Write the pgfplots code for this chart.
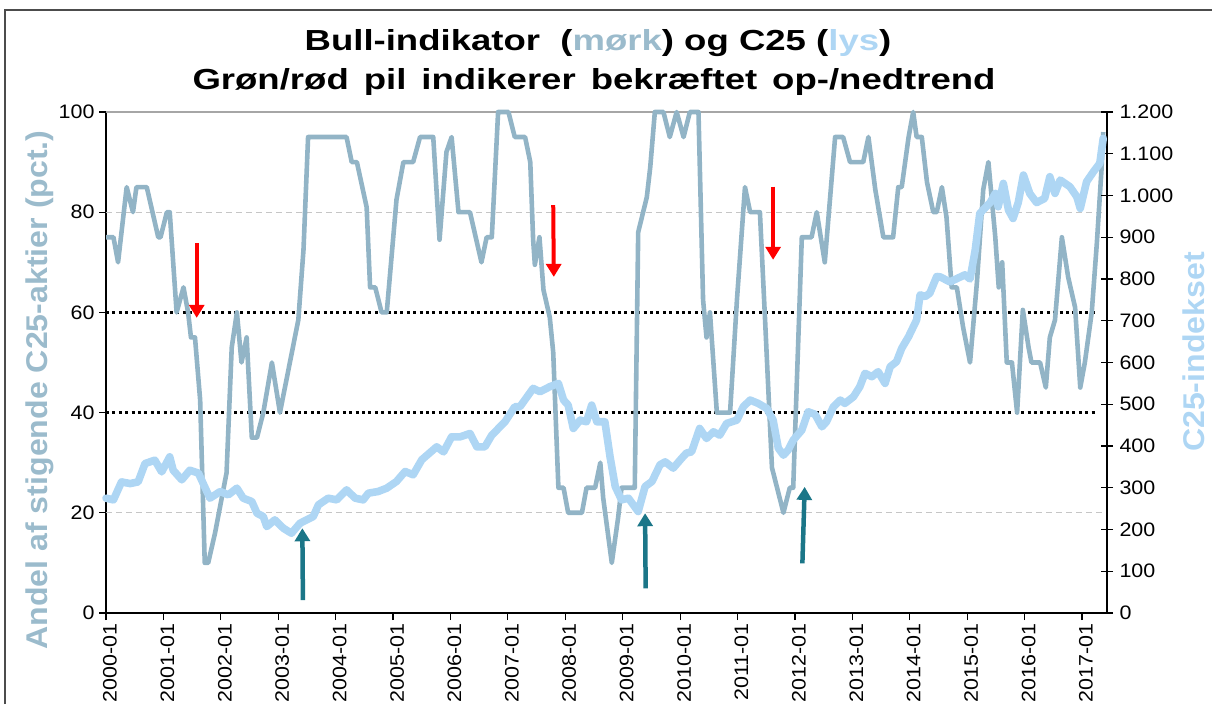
\documentclass[border=0pt]{standalone}
\usepackage{fontspec}
\setmainfont{Liberation Sans}
\newfontfamily\titlefont[FakeStretch=1.26]{Liberation Sans}
\newfontfamily\labelfont[FakeStretch=1.07]{Liberation Sans}
\newfontfamily\tickfamily[FakeStretch=1.1]{Liberation Sans}
\usepackage{pgfplots}
\pgfplotsset{compat=1.18}
\usetikzlibrary{arrows.meta}
\definecolor{darkline}{RGB}{146,180,198}
\definecolor{darklabel}{RGB}{155,187,204}
\definecolor{lightline}{RGB}{174,214,244}
\definecolor{arrteal}{RGB}{27,118,136}
\newcommand{\tickfont}{\tickfamily\fontsize{19.5}{21}\selectfont}
\begin{document}
\begin{tikzpicture}[x=1pt,y=1pt]
\useasboundingbox (0,0) rectangle (1212,704);
\draw[line width=1.6pt, black!70] (5,0) -- (5,694) -- (1212,694);
\node[anchor=base] at (598,653) {\titlefont\fontsize{29}{32}\selectfont\bfseries Bull-indikator\ \ ({\color{darklabel}mørk}) og C25 ({\color{lightline}lys})};
\node[anchor=base] at (594,614) {\titlefont\fontsize{29}{32}\selectfont\bfseries Grøn/rød\ \,pil\ \,indikerer\ \,bekræftet\ \,op-/nedtrend};
\node[anchor=base, rotate=90, text=darklabel] at (47,314) {\labelfont\fontsize{30}{33}\selectfont\bfseries Andel af stigende C25-aktier (pct.)};
\node[anchor=base, rotate=90, text=lightline] at (1204,352) {\labelfont\fontsize{30}{33}\selectfont\bfseries C25-indekset};

\begin{axis}[
  at={(106pt,91pt)}, anchor=south west,
  width=1001pt, height=501pt, scale only axis,
  xmin=2000, xmax=2017.436, ymin=0, ymax=100,
  xtick={2000,2001,2002,2003,2004,2005,2006,2007,2008,2009,2010,2011,2012,2013,2014,2015,2016,2017},
  xticklabels={2000-01,2001-01,2002-01,2003-01,2004-01,2005-01,2006-01,2007-01,2008-01,2009-01,2010-01,2011-01,2012-01,2013-01,2014-01,2015-01,2016-01,2017-01},
  xtick pos=bottom, ytick pos=left,
  ytick={0,20,40,60,80,100},
  tick align=outside, major tick length=7pt,
  tick style={black, line width=1.2pt},
  axis line style={black, line width=1.4pt},
  x tick label style={rotate=90, anchor=east, font=\tickfont, yshift=-4pt},
  y tick label style={font=\tickfont, xshift=-1pt},
  /pgf/number format/assume math mode=true,
  clip=false,
]
\draw[gray!45, line width=0.9pt, dash pattern=on 6pt off 4pt] (axis cs:2000,20) -- (axis cs:2017.436,20);
\draw[gray!45, line width=0.9pt, dash pattern=on 6pt off 4pt] (axis cs:2000,80) -- (axis cs:2017.436,80);
\draw[black, line width=3pt, dash pattern=on 3pt off 3.4pt] (axis cs:2000,40) -- (axis cs:2017.25,40);
\draw[black, line width=3pt, dash pattern=on 3pt off 3.4pt] (axis cs:2000,60) -- (axis cs:2017.25,60);
\draw[gray!70, line width=1.4pt] (rel axis cs:0,1) -- (rel axis cs:1,1);
\addplot[darkline, line width=4.6pt, line join=round, no marks] coordinates {
(2000.00,75) (2000.13,75) (2000.21,70) (2000.36,85) (2000.47,80) (2000.53,85) (2000.71,85)
(2000.91,75) (2000.95,75) (2001.06,80) (2001.11,80) (2001.23,60) (2001.35,65) (2001.43,60)
(2001.48,55) (2001.55,55) (2001.64,42.5) (2001.72,10) (2001.78,10) (2001.90,16) (2002.10,28)
(2002.19,53) (2002.28,60) (2002.36,50) (2002.45,55) (2002.54,35) (2002.63,35) (2002.74,40)
(2002.89,50) (2003.03,40) (2003.35,58.5) (2003.44,72.5) (2003.52,95) (2004.19,95) (2004.28,90)
(2004.37,90) (2004.54,81) (2004.60,65) (2004.69,65) (2004.80,60) (2004.89,60) (2005.06,82.5)
(2005.18,90) (2005.35,90) (2005.47,95) (2005.70,95) (2005.81,74.5) (2005.93,92) (2006.02,95)
(2006.14,80) (2006.34,80) (2006.54,70) (2006.63,75) (2006.72,75) (2006.83,100) (2007.01,100)
(2007.12,95) (2007.30,95) (2007.39,90) (2007.44,74.5) (2007.47,69.5) (2007.55,75) (2007.62,64.5)
(2007.73,59) (2007.79,52) (2007.88,25) (2007.97,25) (2008.05,20) (2008.29,20) (2008.37,25)
(2008.52,25) (2008.61,30) (2008.66,23) (2008.81,10) (2008.92,19) (2008.98,25) (2009.21,25)
(2009.27,76) (2009.42,83) (2009.48,89) (2009.56,100) (2009.71,100) (2009.82,95) (2009.94,100)
(2010.06,95) (2010.17,100) (2010.32,100) (2010.40,62.5) (2010.46,55) (2010.52,60) (2010.64,40)
(2010.87,40) (2010.99,62.5) (2011.13,85) (2011.22,80) (2011.39,80) (2011.48,58.5) (2011.60,29)
(2011.80,20) (2011.91,25) (2011.97,25) (2012.12,75) (2012.29,75) (2012.38,80) (2012.52,70)
(2012.70,95) (2012.84,95) (2012.96,90) (2013.19,90) (2013.28,95) (2013.40,84.5) (2013.54,75)
(2013.71,75) (2013.80,85) (2013.86,85) (2013.98,95) (2014.06,100) (2014.12,95) (2014.21,95)
(2014.30,86) (2014.41,80) (2014.47,80) (2014.56,85) (2014.64,79) (2014.73,65) (2014.82,65)
(2014.93,57) (2015.05,50) (2015.17,66) (2015.28,84.5) (2015.37,90) (2015.49,75) (2015.55,65)
(2015.61,70) (2015.69,50) (2015.78,50) (2015.87,40) (2015.97,60.5) (2016.07,53) (2016.12,50)
(2016.27,50) (2016.37,45) (2016.44,55) (2016.53,58.5) (2016.65,75) (2016.76,67) (2016.88,61)
(2016.97,45) (2017.05,50) (2017.17,60) (2017.26,74) (2017.34,88.5) (2017.37,96)
};
\end{axis}

\begin{axis}[
  at={(106pt,91pt)}, anchor=south west,
  width=1001pt, height=501pt, scale only axis,
  xmin=2000, xmax=2017.436, ymin=0, ymax=1200,
  hide x axis,
  axis y line*=right,
  axis line style={black, line width=1.4pt, -},
  every outer y axis line/.append style={-},
  ytick={0,100,200,300,400,500,600,700,800,900,1000,1100,1200},
  tick align=center, major tick length=12pt,
  tick style={black, line width=1.2pt},
  y tick label style={font=\tickfont, xshift=3pt},
  /pgf/number format/.cd, 1000 sep={.}, assume math mode=true,
  /pgfplots/.cd,
  clip=false,
]
\addplot[lightline, line width=7.6pt, line join=round, line cap=round, no marks] coordinates {
(2000.00,275) (2000.13,271) (2000.27,314) (2000.42,310) (2000.56,314) (2000.68,358) (2000.85,366)
(2000.97,338) (2001.11,374) (2001.17,342) (2001.32,319) (2001.46,342) (2001.61,335) (2001.81,275)
(2001.99,291) (2002.13,283) (2002.28,299) (2002.39,275) (2002.54,267) (2002.63,239) (2002.74,231)
(2002.80,207) (2002.94,223) (2003.09,203) (2003.23,191) (2003.38,215) (2003.61,231) (2003.70,259)
(2003.87,275) (2004.02,271) (2004.19,295) (2004.34,275) (2004.48,271) (2004.57,287) (2004.74,291)
(2004.89,299) (2005.06,315) (2005.21,339) (2005.35,331) (2005.50,367) (2005.76,398) (2005.88,386)
(2006.02,422) (2006.17,422) (2006.34,430) (2006.46,398) (2006.60,398) (2006.72,426) (2006.95,458)
(2007.12,494) (2007.21,494) (2007.44,538) (2007.56,530) (2007.73,542) (2007.88,550) (2007.97,510)
(2008.05,498) (2008.14,442) (2008.26,462) (2008.37,458) (2008.46,498) (2008.55,458) (2008.69,458)
(2008.78,374) (2008.87,303) (2008.98,271) (2009.10,275) (2009.27,243) (2009.39,303) (2009.51,315)
(2009.65,355) (2009.74,362) (2009.88,347) (2010.03,371) (2010.11,383) (2010.20,386) (2010.34,442)
(2010.46,418) (2010.58,434) (2010.69,426) (2010.81,454) (2010.99,462) (2011.10,494) (2011.22,510)
(2011.36,502) (2011.51,490) (2011.62,462) (2011.71,395) (2011.80,378) (2011.88,390) (2011.97,414)
(2012.12,438) (2012.23,482) (2012.35,476) (2012.47,446) (2012.55,458) (2012.67,494) (2012.79,510)
(2012.87,502) (2013.02,518) (2013.13,542) (2013.22,574) (2013.34,566) (2013.45,578) (2013.57,550)
(2013.66,590) (2013.77,602) (2013.86,634) (2013.98,662) (2014.12,702) (2014.18,762) (2014.27,758)
(2014.35,766) (2014.47,806) (2014.53,805) (2014.70,793) (2014.96,810) (2015.05,800) (2015.14,869)
(2015.22,957) (2015.40,983) (2015.49,1005) (2015.54,973) (2015.63,1029) (2015.72,965)
(2015.80,945) (2015.89,983) (2015.98,1049) (2016.09,1005) (2016.21,983) (2016.35,993) (2016.44,1045)
(2016.53,1005) (2016.62,1037) (2016.79,1021) (2016.91,997) (2016.97,969) (2017.08,1033) (2017.20,1057) (2017.31,1077)
(2017.37,1137)
};
\draw[red, line width=4pt, -{Triangle[width=15pt,length=13pt]}] (axis cs:2001.58,886) -- (axis cs:2001.58,707);
\draw[red, line width=4pt, -{Triangle[width=15pt,length=13pt]}] (axis cs:2007.79,977) -- (axis cs:2007.80,805);
\draw[red, line width=4pt, -{Triangle[width=15pt,length=13pt]}] (axis cs:2011.62,1021) -- (axis cs:2011.62,846);
\draw[arrteal, line width=4.5pt, -{Triangle[width=15pt,length=13pt]}] (axis cs:2003.43,31) -- (axis cs:2003.42,203);
\draw[arrteal, line width=4.5pt, -{Triangle[width=15pt,length=13pt]}] (axis cs:2009.40,59) -- (axis cs:2009.39,239);
\draw[arrteal, line width=4.5pt, -{Triangle[width=15pt,length=13pt]}] (axis cs:2012.13,119) -- (axis cs:2012.17,302);
\end{axis}
\end{tikzpicture}
\end{document}
